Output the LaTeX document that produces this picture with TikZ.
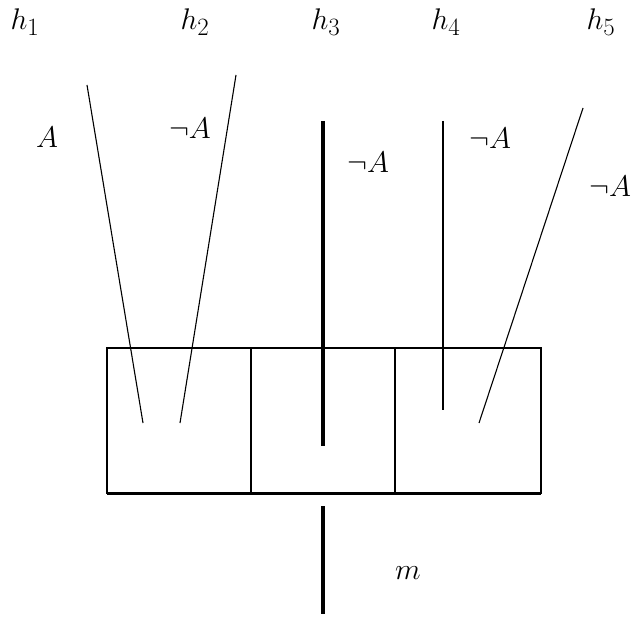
\documentclass[tikz,border=0pt]{standalone}
\begin{document}
\begin{tikzpicture}[x=1pt,y=-1pt,
  lbl/.style={inner sep=0pt,scale=1.2,font=\fontsize{24.88}{30}\selectfont},
  boxline/.style={line width=2.4pt},
  thinline/.style={line width=1.1pt},
  thickline/.style={line width=3.6pt},
  midline/.style={line width=2.2pt}]
\useasboundingbox (0,0) rectangle (631,617);
% box
\coordinate (b1) at (107,348);
\coordinate (b2) at (541,493);
\coordinate (d1t) at (251,348);
\coordinate (d1b) at (251,493);
\coordinate (d2t) at (395,348);
\coordinate (d2b) at (395,493);
\draw[boxline] (b1) rectangle (b2);
\draw[boxline] (d1t) -- (d1b);
\draw[boxline] (d2t) -- (d2b);
\draw[line width=3pt] (107,493) -- (541,493);
% lines
\coordinate (h1a) at (87,85);
\coordinate (h1b) at (143,423);
\coordinate (h2a) at (236,75);
\coordinate (h2b) at (180,423);
\coordinate (h3a) at (323,121);
\coordinate (h3b) at (323,446);
\coordinate (h4a) at (443,121);
\coordinate (h4b) at (443,410);
\coordinate (h5a) at (583,108);
\coordinate (h5b) at (479,423);
\coordinate (ma) at (323,506);
\coordinate (mb) at (323,614);
\draw[thinline] (h1a) -- (h1b);
\draw[thinline] (h2a) -- (h2b);
\draw[thickline] (h3a) -- (h3b);
\draw[midline] (h4a) -- (h4b);
\draw[thinline] (h5a) -- (h5b);
\draw[thickline] (ma) -- (mb);
% labels
\node[lbl] (n1) at (25,22) {$h_1$};
\node[lbl] (n2) at (195,22) {$h_2$};
\node[lbl] (n3) at (326,22) {$h_3$};
\node[lbl] (n4) at (446,22) {$h_4$};
\node[lbl] (n5) at (601,22) {$h_5$};
\node[lbl] (l1) at (47,137) {$A$};
\node[lbl] (l2) at (190,128) {$\neg A$};
\node[lbl] (l3) at (368,162) {$\neg A$};
\node[lbl] (l4) at (490,138) {$\neg A$};
\node[lbl] (l5) at (610,186) {$\neg A$};
\node[lbl] (lm) at (408,573) {$m$};
\end{tikzpicture}
\end{document}
